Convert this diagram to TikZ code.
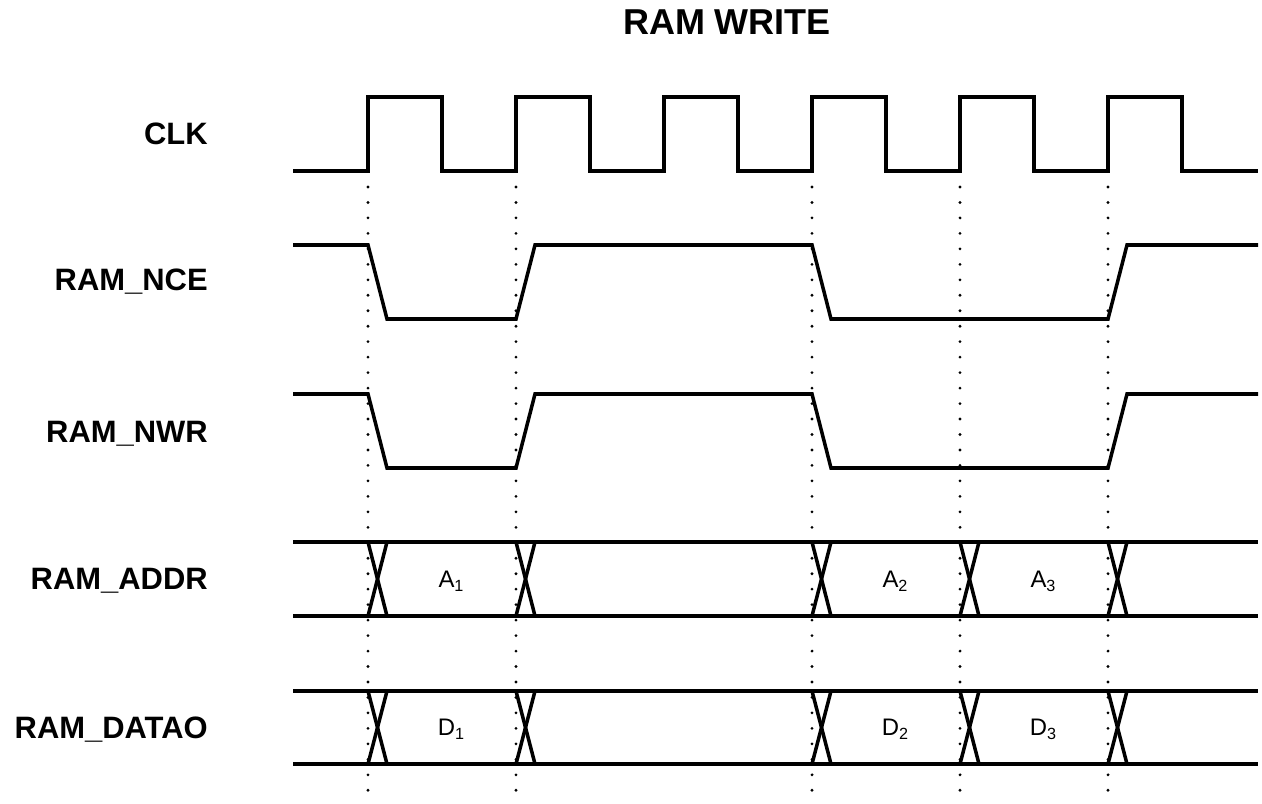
\documentclass[tikz,border=0pt]{standalone}
\usepackage{fontspec}
\setmainfont{Liberation Sans}
\usetikzlibrary{positioning}

\newcommand{\idx}[1]{\raisebox{-3pt}{\fontsize{11.5}{13}\selectfont #1}}

\begin{document}
\begin{tikzpicture}[x=0.025cm,y=-0.025cm]
     \tikzstyle{sig_style} = [draw=black,line width=2.5pt,line join=miter]
     \tikzstyle{guide_style} = [draw=black,line width=2.2pt,line cap=round,dash pattern=on 0pt off 11pt]
     \tikzstyle{name_style} = [anchor=base east,inner sep=0pt,font=\fontsize{22}{26}\selectfont\bfseries]
     \tikzstyle{value_style} = [anchor=base,inner sep=0pt,font=\fontsize{17}{20}\selectfont]
     \useasboundingbox (0,0) rectangle (1262,803);
     % title
     \node[anchor=base,inner sep=0pt,font=\fontsize{25.6}{30}\selectfont\bfseries] (title) at (727,34) {RAM WRITE};
     % signal names
     \node[name_style] (clk) at (208,144) {CLK};
     \node[name_style] (nce) at (208,290) {RAM\_NCE};
     \node[name_style] (nwr) at (208,442) {RAM\_NWR};
     \node[name_style] (addr) at (208,589) {RAM\_ADDR};
     \node[name_style] (datao) at (208,738) {RAM\_DATAO};
     % guides
     \foreach \t in {368,516,812,960,1108}
          \draw[guide_style] (\t,187) -- (\t,802);
     % clock
     \draw[sig_style] (293,171) -- (368,171) -- (368,97) -- (442,97) -- (442,171)
          -- (516,171) -- (516,97) -- (590,97) -- (590,171)
          -- (664,171) -- (664,97) -- (738,97) -- (738,171)
          -- (812,171) -- (812,97) -- (886,97) -- (886,171)
          -- (960,171) -- (960,97) -- (1034,97) -- (1034,171)
          -- (1108,171) -- (1108,97) -- (1182,97) -- (1182,171) -- (1258,171);
     % strobes
     \draw[sig_style] (293,245) -- (368,245) -- (387,319) -- (516,319) -- (535,245)
          -- (812,245) -- (831,319) -- (1108,319) -- (1127,245) -- (1258,245);
     \draw[sig_style] (293,394) -- (368,394) -- (387,468) -- (516,468) -- (535,394)
          -- (812,394) -- (831,468) -- (1108,468) -- (1127,394) -- (1258,394);
     % buses
     \draw[sig_style] (293,542) -- (1258,542);
     \draw[sig_style] (293,616) -- (1258,616);
     \draw[sig_style] (293,691) -- (1258,691);
     \draw[sig_style] (293,764) -- (1258,764);
     \foreach \t in {368,516,812,960,1108} {
          \draw[sig_style] (\t,542) -- (\t+19,616);
          \draw[sig_style] (\t+19,542) -- (\t,616);
          \draw[sig_style] (\t,691) -- (\t+19,764);
          \draw[sig_style] (\t+19,691) -- (\t,764);
     }
     % bus values
     \node[value_style] (a1) at (451,587) {A\idx{1}};
     \node[value_style] (a2) at (895,587) {A\idx{2}};
     \node[value_style] (a3) at (1043,587) {A\idx{3}};
     \node[value_style] (d1) at (451,735) {D\idx{1}};
     \node[value_style] (d2) at (895,735) {D\idx{2}};
     \node[value_style] (d3) at (1043,735) {D\idx{3}};
\end{tikzpicture}
\end{document}
